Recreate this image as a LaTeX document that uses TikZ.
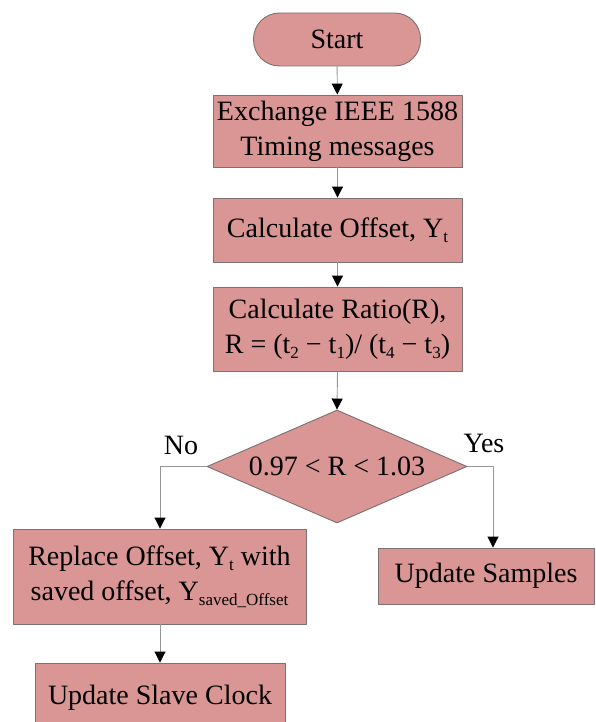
\documentclass[tikz,border=0pt]{standalone}
\usepackage{fontspec}
\setmainfont{Liberation Serif}
\usetikzlibrary{arrows.meta,shapes.geometric}
\definecolor{boxfill}{RGB}{217,150,149}
\definecolor{boxline}{RGB}{125,112,112}
\definecolor{flowline}{RGB}{150,150,150}
\newcommand{\lsub}[1]{\raisebox{-0.4ex}{\fontsize{17}{17}\selectfont #1}}
\tikzset{
  stepbox/.style={draw=boxline,fill=boxfill,line width=0.9pt,inner sep=0pt,align=center,
    font=\fontsize{28}{35}\selectfont},
  flow/.style={draw=flowline,line width=0.9pt,-{Triangle[length=11pt,width=11pt,fill=black,color=black]}},
  tag/.style={font=\fontsize{28}{35}\selectfont}
}
\begin{document}
\begin{tikzpicture}[x=1pt,y=-1pt,line join=round]
\useasboundingbox (0,0) rectangle (596,722);
  \node[stepbox,rounded corners=26pt,minimum width=167pt,minimum height=53pt] (start) at (337,39.5) {Start};
  \node[stepbox,minimum width=249pt,minimum height=72pt] (exch) at (337.5,131) {Exchange IEEE 1588\\Timing messages};
  \node[stepbox,minimum width=249pt,minimum height=64pt] (offs) at (337.5,230) {Calculate Offset, Y\lsub{t}};
  \node[stepbox,minimum width=249pt,minimum height=84pt] (ratio) at (337.5,329) {Calculate Ratio(R),\\R = (t\lsub{2} − t\lsub{1})/ (t\lsub{4} − t\lsub{3})};
  \node[stepbox,diamond,aspect=2.3,minimum width=260pt,minimum height=113pt] (dec) at (337,466.5) {0.97 < R < 1.03};
  \node[stepbox,minimum width=293pt,minimum height=95pt] (repl) at (159.5,576.5) {Replace Offset, Y\lsub{t} with\\saved offset, Y\lsub{saved\_Offset}};
  \node[stepbox,minimum width=216pt,minimum height=56pt] (samp) at (486,576) {Update Samples};
  \node[stepbox,minimum width=250pt,minimum height=70pt] (slave) at (160,698) {Update Slave Clock};
  \coordinate (noturn) at (160,466.5);
  \coordinate (yesturn) at (493,466.5);
  \draw[flow] (start) -- (exch);
  \draw[flow] (exch) -- (offs);
  \draw[flow] (offs) -- (ratio);
  \draw[flow] (ratio.south) -- (dec.north);
  \draw[flow] (dec.west) -- (noturn) -- (repl.north -| noturn);
  \draw[flow] (dec.east) -- (yesturn) -- (samp.north -| yesturn);
  \draw[flow] (repl.south -| slave) -- (slave.north);
  \node[tag] (no) at (181,445) {No};
  \node[tag] (yes) at (484,443) {Yes};
\end{tikzpicture}
\end{document}
